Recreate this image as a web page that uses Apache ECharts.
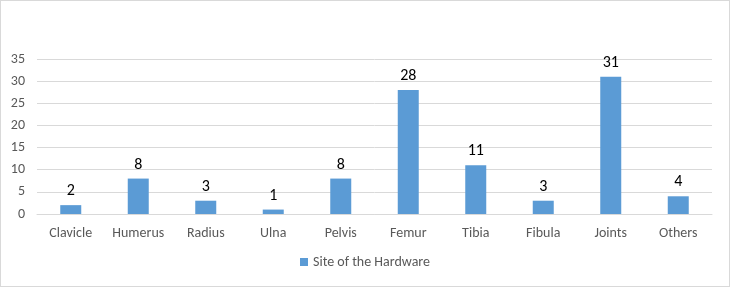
<!DOCTYPE html>
<html>
<head>
<meta charset="utf-8">
<script src="https://cdn.jsdelivr.net/npm/echarts@6/dist/echarts.min.js"></script>
<style>
  html, body { margin: 0; padding: 0; background: #fff; }
  #chart { width: 728px; height: 285px; border: 1px solid #d9d9d9; }
</style>
</head>
<body>
<div id="chart"></div>
<script>
const categories = ['Clavicle', 'Humerus', 'Radius', 'Ulna', 'Pelvis', 'Femur', 'Tibia', 'Fibula', 'Joints', 'Others'];
const hardwareCounts = [2, 8, 3, 1, 8, 28, 11, 3, 31, 4];
const seriesName = 'Site of the Hardware';

const font = 'Calibri, Carlito, "Liberation Sans", sans-serif';
const chart = echarts.init(document.getElementById('chart'));

const option = {
  animation: false,
  grid: { left: 36, right: 17, top: 58, bottom: 72 },
  legend: {
    data: [seriesName],
    bottom: 12,
    left: 'center',
    itemWidth: 8,
    itemHeight: 8,
    itemGap: 4,
    icon: 'rect',
    textStyle: { color: '#595959', fontSize: 14, fontFamily: font }
  },
  xAxis: {
    type: 'category',
    data: categories,
    axisLine: { lineStyle: { color: '#d9d9d9' } },
    axisTick: { show: false },
    axisLabel: { color: '#595959', fontSize: 14, margin: 12, interval: 0, hideOverlap: false, fontFamily: font }
  },
  yAxis: {
    type: 'value',
    min: 0,
    max: 35,
    interval: 5,
    axisLine: { show: false },
    axisTick: { show: false },
    splitLine: { lineStyle: { color: '#d9d9d9' } },
    axisLabel: { color: '#595959', fontSize: 14, margin: 12, fontFamily: font }
  },
  series: [
    {
      name: seriesName,
      type: 'bar',
      data: hardwareCounts,
      barWidth: 21,
      itemStyle: { color: '#5b9bd5' },
      label: {
        show: true,
        position: 'top',
        distance: 6,
        color: '#000',
        fontSize: 16,
        fontFamily: font
      }
    }
  ]
};

chart.setOption(option);
</script>
</body>
</html>
